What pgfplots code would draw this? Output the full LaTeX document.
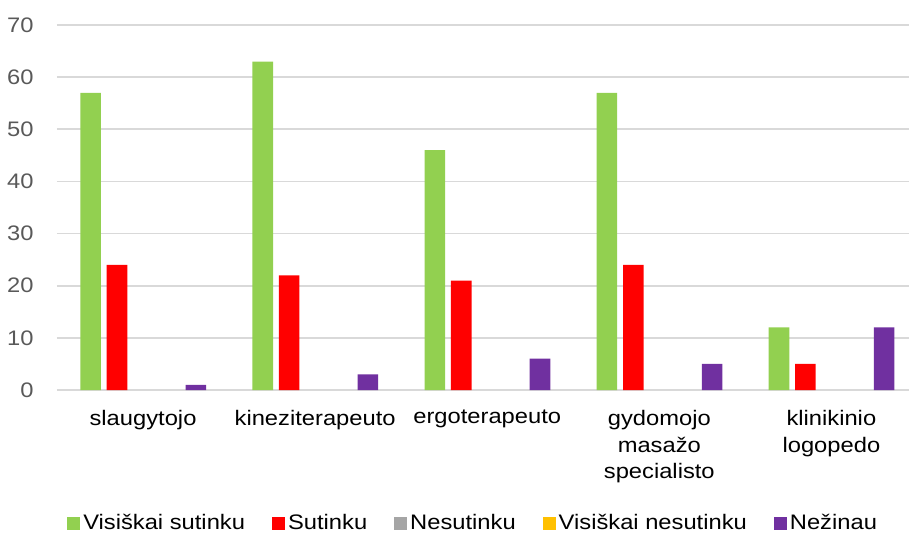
\documentclass[border=0pt]{standalone}
\usepackage{pgfplots}
\pgfplotsset{compat=1.18}
\usepackage{fontspec}
\setmainfont{Liberation Sans}[FakeStretch=1.13]
\definecolor{cgreen}{HTML}{92D050}
\definecolor{cred}{HTML}{FF0000}
\definecolor{cgray}{HTML}{A5A5A5}
\definecolor{cyellow}{HTML}{FFC000}
\definecolor{cpurple}{HTML}{7030A0}
\definecolor{gridc}{HTML}{D9D9D9}
\definecolor{ticktext}{HTML}{595959}
\begin{document}
\begin{tikzpicture}
\begin{axis}[
  scale only axis,
  width=426pt, height=182.5pt,
  xmin=-0.5, xmax=4.451,
  ymin=0, ymax=70,
  ytick={0,10,...,70},
  xtick={0,1,2,3,4},
  xticklabels={slaugytojo,kineziterapeuto,ergoterapeuto,{gydomojo\\masažo\\specialisto},{klinikinio\\logopedo}},
  axis line style={draw=none},
  major tick length=0pt,
  xmajorgrids=false,
  ymajorgrids=true,
  y grid style={draw=gridc, line width=0.8pt},
  /pgf/number format/assume math mode=true,
  yticklabel style={anchor=east, inner sep=0pt, xshift=-11.5pt, text=ticktext, font=\fontsize{10.5}{12}\selectfont},
  xticklabel style={anchor=north, inner sep=0pt, yshift=-10pt, align=center, text=black, font=\fontsize{10.5}{13.3}\selectfont},
  ybar,
  bar width=10.3pt,
  legend columns=5,
  legend style={at={(0.489,-0.3644)}, anchor=center, draw=none, fill=none,
    font=\fontsize{10.5}{12}\selectfont,
    /tikz/every even column/.append style={column sep=12pt},
    nodes={inner sep=1.5pt}},
  legend image code/.code={\fill[#1] (0pt,-3.25pt) rectangle (6.5pt,3.25pt);},
]
\addplot[fill=cgreen, draw=none, bar shift=-26.2pt] coordinates {(0,57) (1,63) (2,46) (3,57) (4,12)};
\addplot[fill=cred, draw=none, bar shift=-13pt] coordinates {(0,24) (1,22) (2,21) (3,24) (4,5)};
\addplot[forget plot, fill=none, draw=none, bar shift=0pt] coordinates {(0,0) (1,0) (2,0) (3,0) (4,0)};
\addlegendimage{fill=cgray, draw=none}
\addplot[forget plot, fill=none, draw=none, bar shift=13pt] coordinates {(0,0) (1,0) (2,0) (3,0) (4,0)};
\addlegendimage{fill=cyellow, draw=none}
\addplot[fill=cpurple, draw=none, bar shift=26.4pt] coordinates {(0,1) (1,3) (2,6) (3,5) (4,12)};
\legend{Visiškai sutinku, Sutinku, Nesutinku, Visiškai nesutinku, Nežinau}
\end{axis}
\pgfresetboundingbox
\path[use as bounding box] (-28.5pt,-73pt) rectangle (426pt,195pt);
\end{tikzpicture}
\end{document}
